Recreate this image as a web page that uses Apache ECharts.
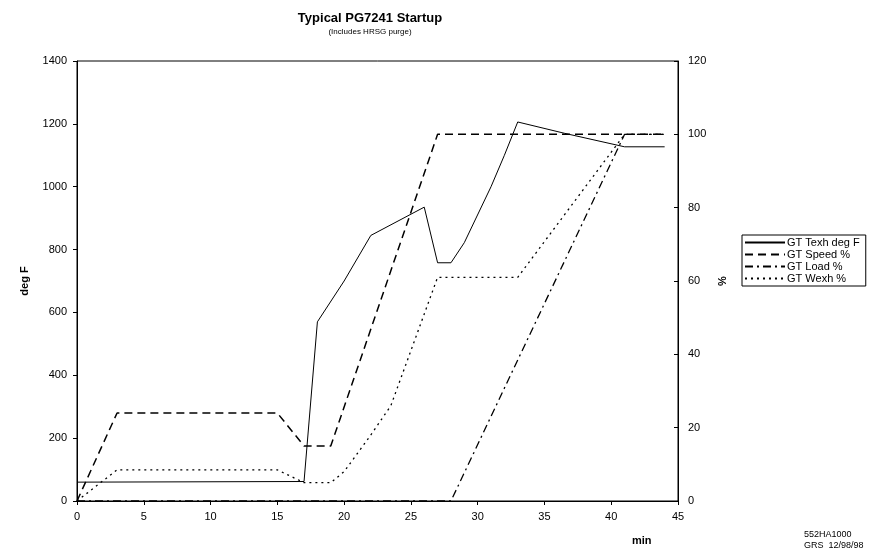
<!DOCTYPE html>
<html>
<head>
<meta charset="utf-8">
<script src="https://cdn.jsdelivr.net/npm/echarts@6/dist/echarts.min.js"></script>
<style>
  html, body { margin: 0; padding: 0; background: #fff; }
  #main { width: 890px; height: 554px; }
</style>
</head>
<body>
<div id="main"></div>
<script>
const chartContainer = echarts.init(document.getElementById("main"));

// minutes and values
const texhMin = [0, 17, 18, 20, 22, 26, 27, 28, 29, 31, 32, 33, 36.5, 41, 44];
const texhDegF = [60, 62, 570, 700, 845, 935, 758, 758, 822, 1000, 1100, 1206, 1170, 1127, 1127];

const speedMin = [0, 3, 15, 17, 19, 27, 44];
const speedPct = [0, 24, 24, 15, 15, 100, 100];

const loadMin = [0, 28, 41, 44];
const loadPct = [0, 0, 100, 100];

const wexhMin = [0, 3, 15, 17, 19, 20, 22, 23.5, 25, 27, 33, 41, 44];
const wexhPct = [0, 8.5, 8.5, 5, 5, 8, 18, 26, 41, 61, 61, 100, 100];

const xTicks = { min: 0, max: 45, interval: 5 };
const leftTicks = { min: 0, max: 1400, interval: 200 };
const rightTicks = { min: 0, max: 120, interval: 20 };

const pairs = (xs, ys) => xs.map((x, i) => [x, ys[i]]);

const font = "Liberation Sans, Arial, sans-serif";

const lineSeries = (name, data, yAxisIndex, type, width) => ({
  name: name,
  type: "line",
  yAxisIndex: yAxisIndex,
  data: data,
  symbol: "none",
  smooth: false,
  silent: true,
  itemStyle: { color: "#000" },
  lineStyle: { color: "#000", width: width, type: type },
});

const plain = (v) => String(v);

option = {
  animation: false,
  backgroundColor: "#fff",
  title: {
    text: "Typical PG7241 Startup",
    subtext: "(Includes HRSG purge)",
    left: 365,
    textAlign: "center",
    top: 7,
    itemGap: 3,
    textStyle: { fontFamily: font, fontSize: 13, fontWeight: "bold", color: "#000" },
    subtextStyle: { fontFamily: font, fontSize: 8, color: "#000" },
  },
  grid: {
    left: 77,
    right: 212,
    top: 61,
    bottom: 53,
    show: true,
    borderColor: "#000",
    borderWidth: 1,
  },
  legend: {
    orient: "vertical",
    left: 742,
    top: 235,
    itemWidth: 40,
    itemHeight: 8,
    itemGap: 1,
    padding: [2, 6, 2, 2],
    borderColor: "#000",
    borderWidth: 1,
    itemStyle: { opacity: 0 },
    textStyle: { fontFamily: font, fontSize: 11, color: "#000", padding: [0, 0, 0, -3] },
    data: ["GT Texh deg F", "GT Speed %", "GT Load %", "GT Wexh %"],
  },
  xAxis: {
    type: "value",
    min: xTicks.min,
    max: xTicks.max,
    interval: xTicks.interval,
    splitLine: { show: false },
    axisLine: { lineStyle: { color: "#000" } },
    axisTick: { length: 4, lineStyle: { color: "#000" } },
    axisLabel: { fontFamily: font, fontSize: 11, color: "#000", margin: 10, formatter: plain },
  },
  yAxis: [
    {
      type: "value",
      min: leftTicks.min,
      max: leftTicks.max,
      interval: leftTicks.interval,
      name: "deg F",
      nameLocation: "middle",
      nameRotate: 90,
      nameGap: 47,
      nameTextStyle: { fontFamily: font, fontSize: 11, fontWeight: "bold", color: "#000" },
      splitLine: { show: false },
      axisLine: { show: true, lineStyle: { color: "#000" } },
      axisTick: { show: true, length: 4, lineStyle: { color: "#000" } },
      axisLabel: { fontFamily: font, fontSize: 11, color: "#000", margin: 10, formatter: plain },
    },
    {
      type: "value",
      position: "right",
      min: rightTicks.min,
      max: rightTicks.max,
      interval: rightTicks.interval,
      name: "%",
      nameLocation: "middle",
      nameRotate: 90,
      nameGap: 38,
      nameTextStyle: { fontFamily: font, fontSize: 11, fontWeight: "bold", color: "#000" },
      splitLine: { show: false },
      axisLine: { show: true, lineStyle: { color: "#000" } },
      axisTick: { show: true, inside: true, length: 4, lineStyle: { color: "#000" } },
      axisLabel: { fontFamily: font, fontSize: 11, color: "#000", margin: 10, formatter: plain },
    },
  ],
  graphic: [
    {
      type: "text",
      left: 632,
      top: 535,
      style: { text: "min", font: "bold 11px " + font, fill: "#000" },
    },
    {
      type: "text",
      left: 804,
      top: 529,
      style: { text: "552HA1000\nGRS  12/98/98", font: "9px " + font, fill: "#000", lineHeight: 11 },
    },
  ],
  series: [
    lineSeries("GT Texh deg F", pairs(texhMin, texhDegF), 0, "solid", 1),
    lineSeries("GT Speed %", pairs(speedMin, speedPct), 1, [8, 5], 1.5),
    lineSeries("GT Load %", pairs(loadMin, loadPct), 1, [8, 4, 2, 4], 1.3),
    lineSeries("GT Wexh %", pairs(wexhMin, wexhPct), 1, [2, 4], 1.3),
  ],
};

chartContainer.setOption(option);
</script>
</body>
</html>
